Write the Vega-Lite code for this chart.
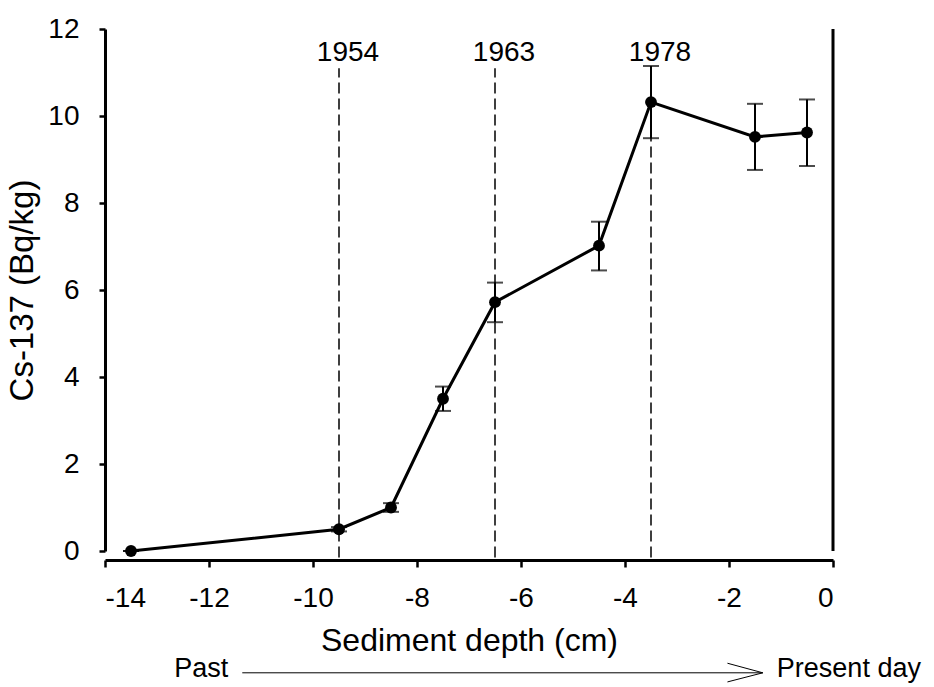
{
  "$schema": "https://vega.github.io/schema/vega-lite/v6.json",
  "autosize": "none",
  "width": 728,
  "height": 522,
  "padding": {"left": 105, "top": 29, "right": 101, "bottom": 136},
  "background": "white",
  "config": {
    "view": {"stroke": null},
    "font": "Liberation Sans",
    "axis": {"grid": false, "domainColor": "black", "tickColor": "black", "labelColor": "black", "titleColor": "black", "labelFont": "Liberation Sans", "titleFont": "Liberation Sans", "labelFontSize": 28, "titleFontSize": 32, "titleFontWeight": "normal", "domainWidth": 3, "tickWidth": 2.5, "tickSize": 6}
  },
  "datasets": {
    "cs": [
      {"depth": -13.5, "cs": 0.0, "lo": 0.0, "hi": 0.0},
      {"depth": -9.5, "cs": 0.5, "lo": 0.45, "hi": 0.55},
      {"depth": -8.5, "cs": 1.0, "lo": 0.9, "hi": 1.1},
      {"depth": -7.5, "cs": 3.5, "lo": 3.22, "hi": 3.78},
      {"depth": -6.5, "cs": 5.72, "lo": 5.26, "hi": 6.17},
      {"depth": -4.5, "cs": 7.02, "lo": 6.45, "hi": 7.57},
      {"depth": -3.5, "cs": 10.32, "lo": 9.49, "hi": 11.15},
      {"depth": -1.5, "cs": 9.52, "lo": 8.76, "hi": 10.28},
      {"depth": -0.5, "cs": 9.62, "lo": 8.85, "hi": 10.38}
    ],
    "years": [
      {"depth": -9.5, "year": "1954", "bottom": -0.15, "top": 11.1, "ly": 11.45},
      {"depth": -6.5, "year": "1963", "bottom": -0.15, "top": 11.1, "ly": 11.45},
      {"depth": -3.5, "year": "1978", "bottom": -0.15, "top": 11.1, "ly": 11.45}
    ],
    "rightline": [{"x": 0, "y": 0, "y2": 12}],
    "arrowline": [{"x": -11.36, "x2": -1.35, "y": -2.8}],
    "arrowhead": [
      {"x": -2.03, "y": -2.58, "o": 1},
      {"x": -1.35, "y": -2.8, "o": 2},
      {"x": -2.03, "y": -3.01, "o": 3}
    ],
    "pastlabel": [{"x": -11.63, "y": -2.72, "text": "Past"}],
    "presentlabel": [{"x": -1.08, "y": -2.72, "text": "Present day"}]
  },
  "layer": [
    {
      "data": {"name": "years"},
      "mark": {"type": "rule", "color": "black", "strokeWidth": 1.5, "strokeDash": [11, 5]},
      "encoding": {
        "x": {"field": "depth", "type": "quantitative", "scale": {"domain": [-14, 0], "nice": false}, "axis": {"values": [-14, -12, -10, -8, -6, -4, -2, 0], "labelExpr": "'' + datum.value", "title": "Sediment depth (cm)", "offset": 9, "labelPadding": 17, "titlePadding": 13, "tickSize": 7}},
        "y": {"field": "bottom", "type": "quantitative", "scale": {"domain": [0, 12], "nice": false}, "axis": {"values": [0, 2, 4, 6, 8, 10, 12], "labelExpr": "'' + datum.value", "title": "Cs-137 (Bq/kg)", "titleFontSize": 33, "labelPadding": 20, "titlePadding": 8}},
        "y2": {"field": "top"}
      }
    },
    {
      "data": {"name": "years"},
      "mark": {"type": "text", "fontSize": 28, "color": "black", "baseline": "middle", "align": "center", "dx": 9, "font": "Liberation Sans"},
      "encoding": {
        "x": {"field": "depth", "type": "quantitative"},
        "y": {"field": "ly", "type": "quantitative"},
        "text": {"field": "year"}
      }
    },
    {
      "data": {"name": "rightline"},
      "mark": {"type": "rule", "color": "black", "strokeWidth": 3},
      "encoding": {
        "x": {"field": "x", "type": "quantitative"},
        "y": {"field": "y", "type": "quantitative"},
        "y2": {"field": "y2"}
      }
    },
    {
      "data": {"name": "cs"},
      "mark": {"type": "rule", "color": "black", "strokeWidth": 2},
      "encoding": {
        "x": {"field": "depth", "type": "quantitative"},
        "y": {"field": "lo", "type": "quantitative"},
        "y2": {"field": "hi"}
      }
    },
    {
      "data": {"name": "cs"},
      "mark": {"type": "tick", "color": "black", "orient": "horizontal", "size": 16, "thickness": 2},
      "encoding": {
        "x": {"field": "depth", "type": "quantitative"},
        "y": {"field": "lo", "type": "quantitative"}
      }
    },
    {
      "data": {"name": "cs"},
      "mark": {"type": "tick", "color": "black", "orient": "horizontal", "size": 16, "thickness": 2},
      "encoding": {
        "x": {"field": "depth", "type": "quantitative"},
        "y": {"field": "hi", "type": "quantitative"}
      }
    },
    {
      "data": {"name": "cs"},
      "mark": {"type": "line", "color": "black", "strokeWidth": 3},
      "encoding": {
        "x": {"field": "depth", "type": "quantitative"},
        "y": {"field": "cs", "type": "quantitative"}
      }
    },
    {
      "data": {"name": "cs"},
      "mark": {"type": "point", "shape": "circle", "filled": true, "color": "black", "size": 140, "opacity": 1},
      "encoding": {
        "x": {"field": "depth", "type": "quantitative"},
        "y": {"field": "cs", "type": "quantitative"}
      }
    },
    {
      "data": {"name": "arrowline"},
      "mark": {"type": "rule", "color": "black", "strokeWidth": 1},
      "encoding": {
        "x": {"field": "x", "type": "quantitative"},
        "x2": {"field": "x2"},
        "y": {"field": "y", "type": "quantitative"}
      }
    },
    {
      "data": {"name": "arrowhead"},
      "mark": {"type": "line", "color": "black", "strokeWidth": 1},
      "encoding": {
        "x": {"field": "x", "type": "quantitative"},
        "y": {"field": "y", "type": "quantitative"},
        "order": {"field": "o", "type": "quantitative"}
      }
    },
    {
      "data": {"name": "pastlabel"},
      "mark": {"type": "text", "fontSize": 27, "color": "black", "baseline": "middle", "align": "right", "font": "Liberation Sans"},
      "encoding": {
        "x": {"field": "x", "type": "quantitative"},
        "y": {"field": "y", "type": "quantitative"},
        "text": {"field": "text"}
      }
    },
    {
      "data": {"name": "presentlabel"},
      "mark": {"type": "text", "fontSize": 27, "color": "black", "baseline": "middle", "align": "left", "font": "Liberation Sans"},
      "encoding": {
        "x": {"field": "x", "type": "quantitative"},
        "y": {"field": "y", "type": "quantitative"},
        "text": {"field": "text"}
      }
    }
  ]
}
